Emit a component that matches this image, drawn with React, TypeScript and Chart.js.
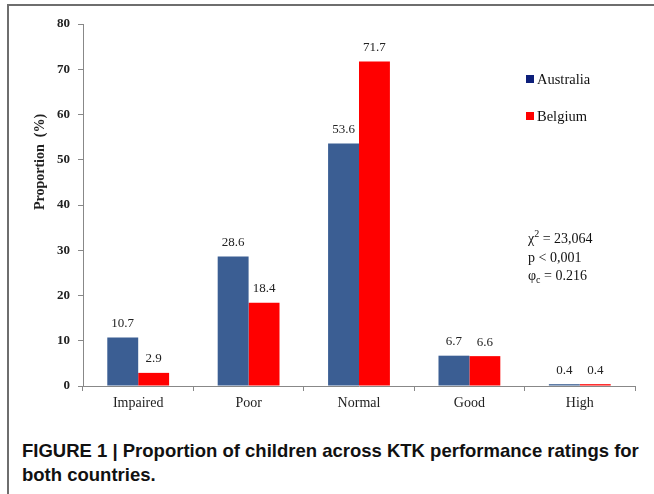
import React, { useEffect, useRef } from "react";
import { Chart, registerables } from "chart.js";

Chart.register(...registerables);

const categories = ["Impaired", "Poor", "Normal", "Good", "High"];
const australia = [10.7, 28.6, 53.6, 6.7, 0.4];
const belgium = [2.9, 18.4, 71.7, 6.6, 0.4];
const seriesNames = ["Australia", "Belgium"];
const yTitle = "Proportion  (%)";

const SERIF = "'Liberation Serif', 'Times New Roman', serif";

const valueLabels = {
  id: "valueLabels",
  afterDatasetsDraw(chart: any) {
    const ctx = chart.ctx;
    ctx.save();
    ctx.font = `13px ${SERIF}`;
    ctx.fillStyle = "#222";
    ctx.textAlign = "center";
    ctx.textBaseline = "middle";
    chart.data.datasets.forEach((ds: any, i: number) => {
      const meta = chart.getDatasetMeta(i);
      meta.data.forEach((bar: any, j: number) => {
        ctx.fillText(ds.data[j].toFixed(1), bar.x, bar.y - 14);
      });
    });
    ctx.restore();
  },
};

const yTitlePlugin = {
  id: "yTitlePlugin",
  afterDraw(chart: any) {
    const ctx = chart.ctx;
    ctx.save();
    ctx.translate(40, 162);
    ctx.rotate(-Math.PI / 2);
    ctx.font = `bold 14px ${SERIF}`;
    ctx.fillStyle = "#222";
    ctx.textAlign = "center";
    ctx.textBaseline = "middle";
    ctx.fillText(yTitle, 0, 0);
    ctx.restore();
  },
};

export default function App() {
  const ref = useRef<HTMLCanvasElement | null>(null);

  useEffect(() => {
    if (!ref.current) return;
    const chart = new Chart(ref.current, {
      type: "bar",
      data: {
        labels: categories,
        datasets: [
          {
            label: seriesNames[0],
            data: australia,
            backgroundColor: "#3b5e93",
            categoryPercentage: 0.56,
            barPercentage: 1,
          },
          {
            label: seriesNames[1],
            data: belgium,
            backgroundColor: "#ff0000",
            categoryPercentage: 0.56,
            barPercentage: 1,
          },
        ],
      },
      options: {
        responsive: false,
        animation: false,
        devicePixelRatio: 1,
        layout: { padding: { left: 0, right: 19, top: 24, bottom: 0 } },
        plugins: {
          legend: { display: false },
          tooltip: { enabled: false },
          title: { display: false },
        },
        scales: {
          x: {
            grid: {
              display: true,
              drawOnChartArea: false,
              drawTicks: true,
              tickLength: 5,
              color: "#888",
              offset: true,
            },
            border: { display: true, color: "#888", width: 1 },
            ticks: {
              font: { family: SERIF, size: 14 },
              color: "#222",
              padding: 4,
            },
            afterFit: (s: any) => {
              s.height = 34;
            },
          },
          y: {
            min: 0,
            max: 80,
            ticks: {
              stepSize: 10,
              font: { family: SERIF, size: 13, weight: "bold" },
              color: "#222",
              padding: 8,
            },
            grid: {
              display: true,
              drawOnChartArea: false,
              drawTicks: true,
              tickLength: 5,
              color: "#888",
            },
            border: { display: true, color: "#888", width: 1 },
            afterFit: (s: any) => {
              s.width = 83;
            },
          },
        },
      },
      plugins: [valueLabels, yTitlePlugin],
    });
    return () => chart.destroy();
  }, []);

  const legendItem = (top: number, color: string, text: string) => (
    <div style={{ position: "absolute", left: 526, top, display: "flex", alignItems: "center" }}>
      <div style={{ width: 8, height: 8, background: color, marginRight: 3 }} />
      <span style={{ fontFamily: SERIF, fontSize: 14.5, color: "#111", lineHeight: "16px" }}>{text}</span>
    </div>
  );

  const statStyle: React.CSSProperties = {
    position: "absolute",
    left: 528,
    fontFamily: SERIF,
    fontSize: 14,
    color: "#111",
    lineHeight: "16px",
    whiteSpace: "nowrap",
  };

  return (
    <div
      style={{
        position: "fixed",
        left: 0,
        top: 0,
        width: 654,
        height: 494,
        background: "#fff",
        overflow: "hidden",
      }}
    >
      <div
        style={{
          position: "absolute",
          left: 7,
          top: 4,
          width: 660,
          height: 500,
          borderLeft: "2px solid #6e6e6e",
          borderTop: "2px solid #6e6e6e",
        }}
      />
      <canvas ref={ref} width={654} height={420} style={{ position: "absolute", left: 0, top: 0, width: 654, height: 420 }} />
      {legendItem(71, "#0d1f7a", seriesNames[0])}
      {legendItem(108, "#ff0000", seriesNames[1])}
      <div style={{ ...statStyle, top: 231 }}>
        χ<sup style={{ fontSize: 10, verticalAlign: "6px", lineHeight: 0 }}>2</sup> = 23,064
      </div>
      <div style={{ ...statStyle, top: 250 }}>p &lt; 0,001</div>
      <div style={{ ...statStyle, top: 268 }}>
        φ<sub style={{ fontSize: 10, verticalAlign: "-3px", lineHeight: 0 }}>c</sub> = 0.216
      </div>
      <div
        style={{
          position: "absolute",
          left: 22,
          top: 439,
          width: 640,
          fontFamily: "'Liberation Sans', Arial, sans-serif",
          fontWeight: "bold",
          fontSize: 18.5,
          lineHeight: "24px",
          color: "#111",
          whiteSpace: "nowrap",
        }}
      >
        FIGURE 1 | Proportion of children across KTK performance ratings for
        <br />
        both countries.
      </div>
    </div>
  );
}
